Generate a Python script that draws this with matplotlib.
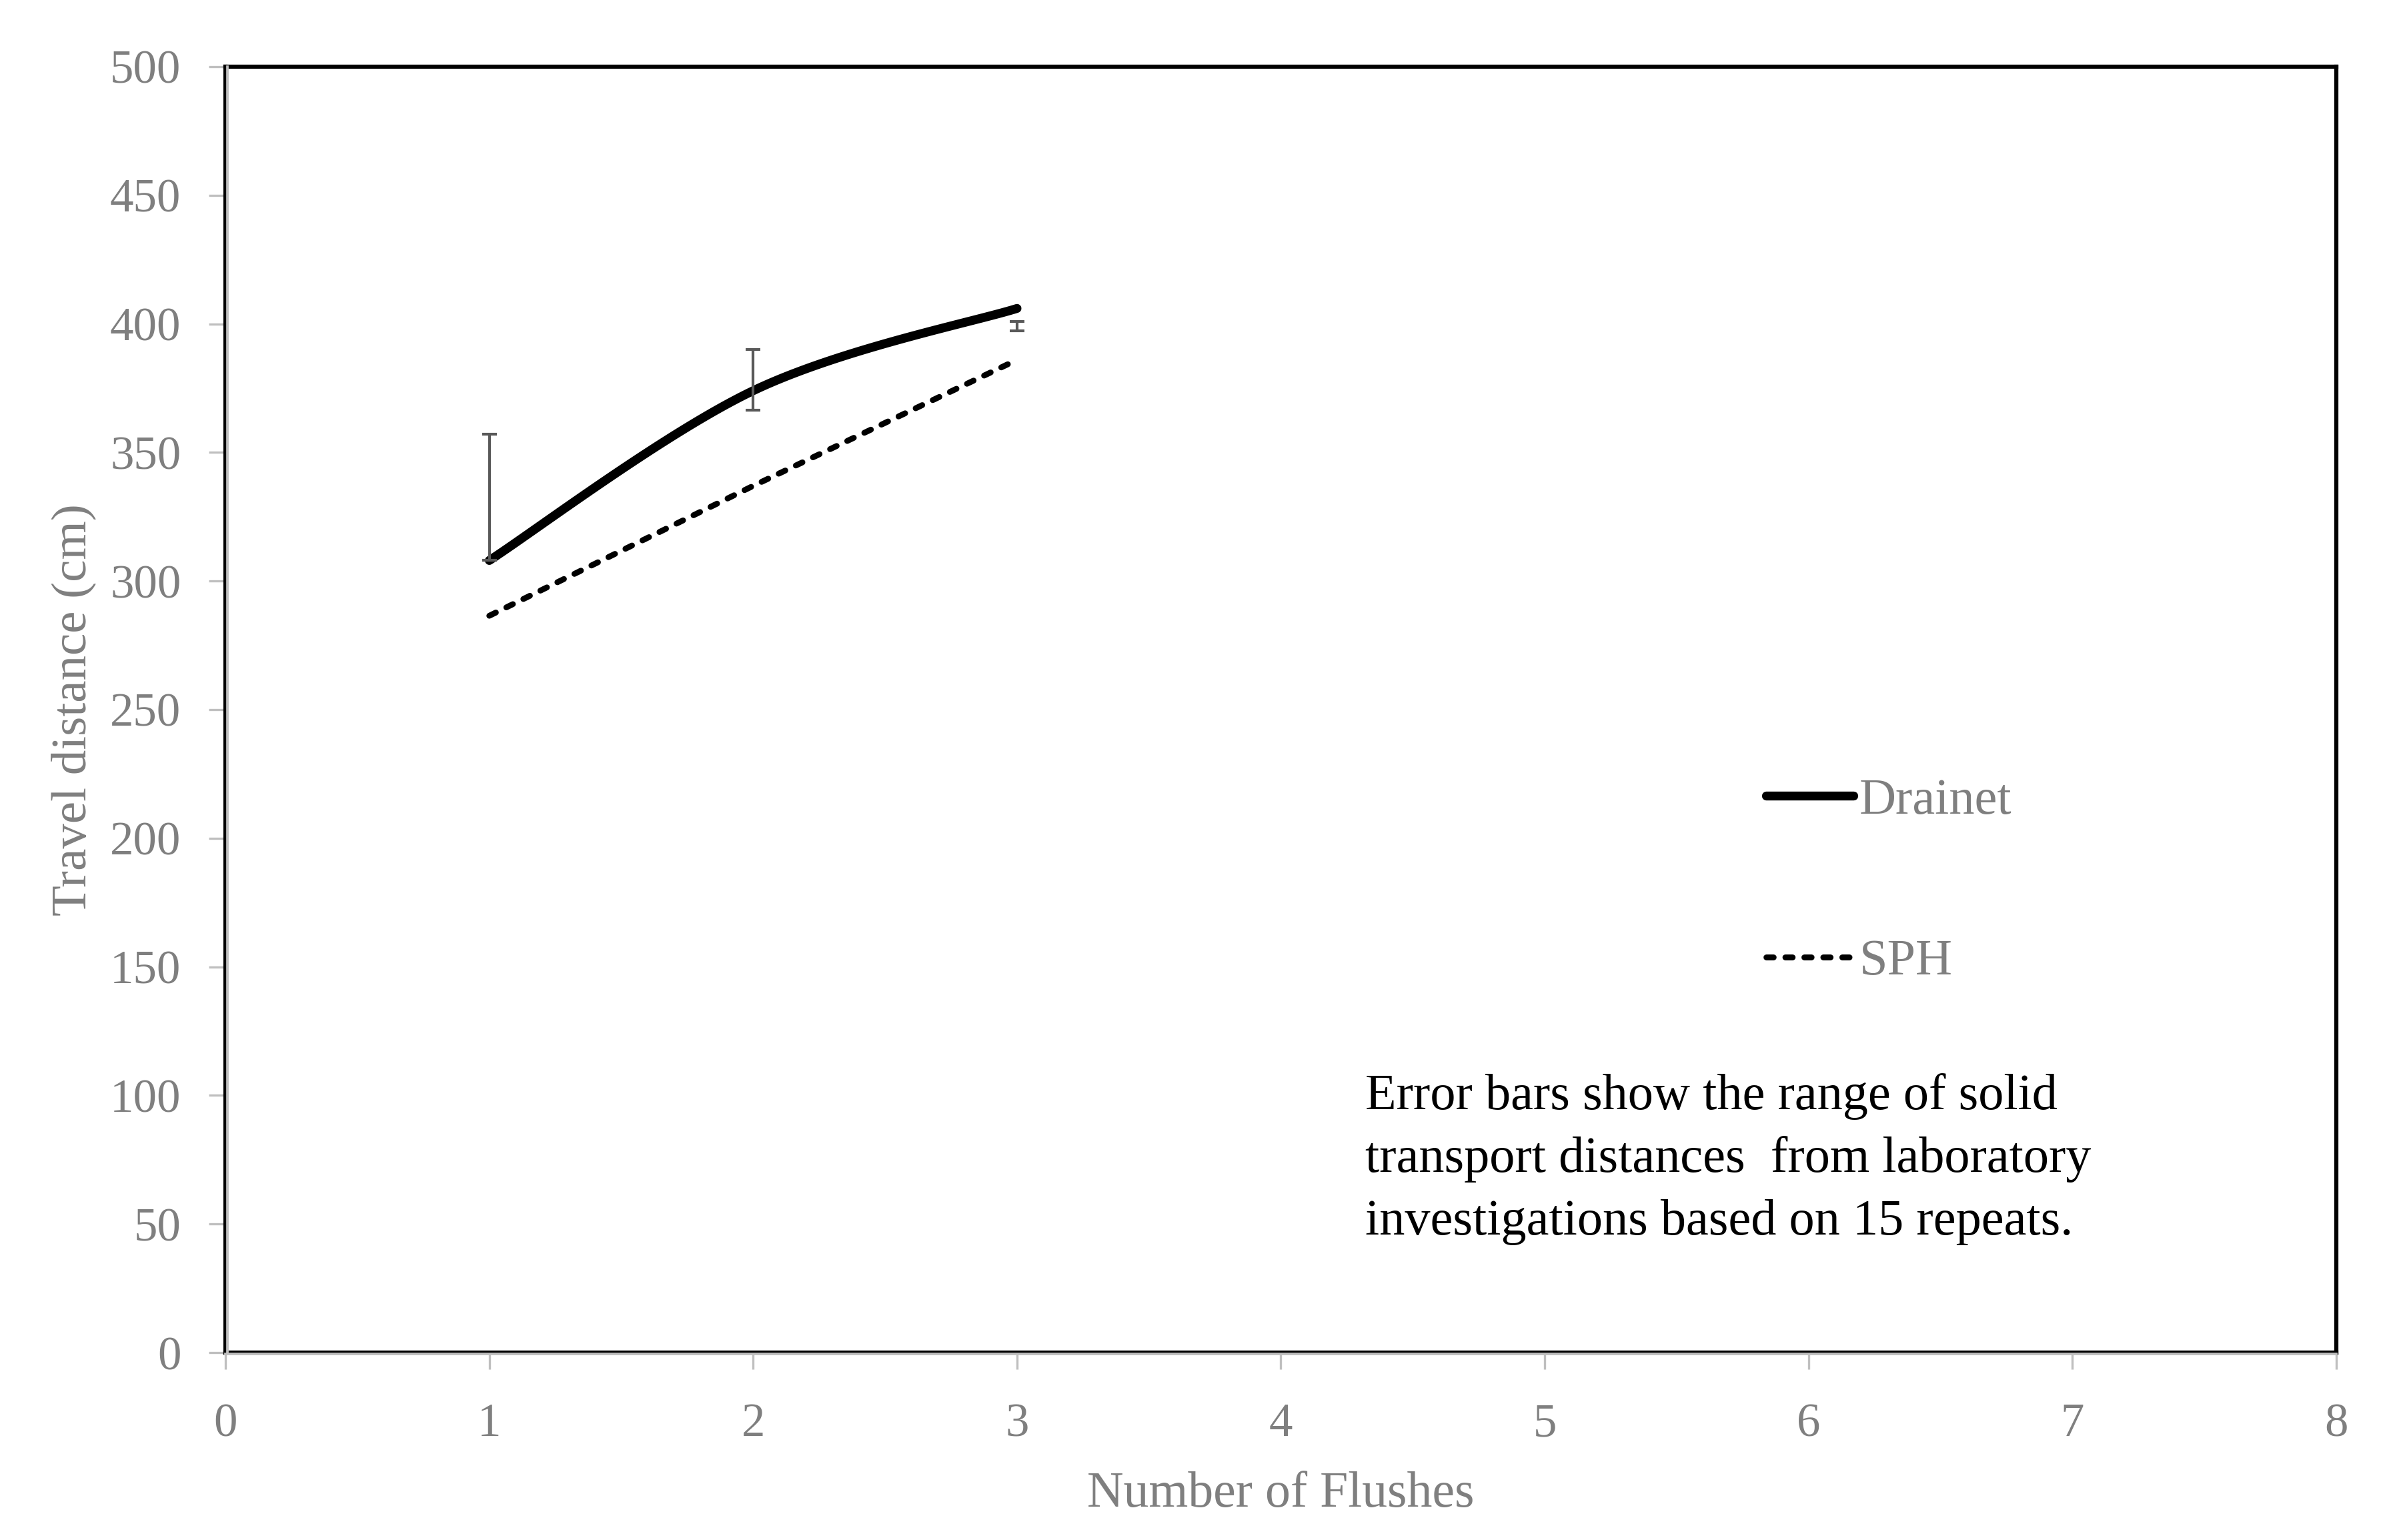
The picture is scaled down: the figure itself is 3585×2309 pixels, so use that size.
import numpy as np
import matplotlib
matplotlib.use("Agg")
import matplotlib.pyplot as plt
import matplotlib.transforms as mtransforms

# Data
flushes = [1, 2, 3]
drainet = [308, 374, 406]
sph = [286.5, 337, 386]
lab_min = [308, 366.5, 397.4]
lab_max = [357, 390, 401]

x_ticks = [0, 1, 2, 3, 4, 5, 6, 7, 8]
y_ticks = [0, 50, 100, 150, 200, 250, 300, 350, 400, 450, 500]

note = ("Error bars show the range of solid\n"
        "transport distances  from laboratory\n"
        "investigations based on 15 repeats.")

GRAY_TXT = "#7f7f7f"
GRAY_AX = "#bfbfbf"

plt.rcParams["font.family"] = ["Liberation Serif", "DejaVu Serif"]


def excel_smooth(xs, ys, n=60):
    # Bezier smoothing similar to a spreadsheet "smoothed line"
    p = np.column_stack([xs, ys]).astype(float)
    pts = np.vstack([p[0], p, p[-1]])
    out = []
    for i in range(1, len(pts) - 2):
        p0, p1, p2, p3 = pts[i - 1], pts[i], pts[i + 1], pts[i + 2]
        c1 = p1 + (p2 - p0) / 6
        c2 = p2 - (p3 - p1) / 6
        t = np.linspace(0, 1, n)[:, None]
        seg = ((1 - t) ** 3) * p1 + 3 * ((1 - t) ** 2) * t * c1 \
            + 3 * (1 - t) * t ** 2 * c2 + t ** 3 * p2
        out.append(seg if i == 1 else seg[1:])
    out = np.vstack(out)
    return out[:, 0], out[:, 1]


fig = plt.figure(figsize=(11.95, 7.6967), dpi=300)
ax = fig.add_axes([0.0943, 0.1217, 0.9771 - 0.0943, 0.9567 - 0.1217])

sx, sy = excel_smooth(flushes, drainet)
ax.plot(sx, sy, color="black", lw=3.2, solid_capstyle="round", label="Drainet", zorder=3)
ax.plot(flushes, sph, color="black", lw=2.1, linestyle=(0, (1.25, 2.0)),
        dash_capstyle="round", label="SPH", zorder=3)

mid = [(a + b) / 2 for a, b in zip(lab_min, lab_max)]
half = [(b - a) / 2 for a, b in zip(lab_min, lab_max)]
ax.errorbar(flushes, mid, yerr=half, fmt="none", ecolor="#595959",
            elinewidth=1.0, capsize=2.6, capthick=1.0, zorder=4)

ax.set_xlim(0, 8)
ax.set_ylim(0, 500)
ax.set_xticks(x_ticks)
ax.set_yticks(y_ticks)

for s in ax.spines.values():
    s.set_color("black")
    s.set_linewidth(1.5)

# light gray axis lines just inside the black frame
off_x = mtransforms.offset_copy(ax.transAxes, fig=fig, x=0.6, y=0, units="points")
off_y = mtransforms.offset_copy(ax.transAxes, fig=fig, x=0, y=-0.6, units="points")
ax.plot([0, 0], [0, 1], transform=off_x, color=GRAY_AX, lw=0.9, clip_on=False, zorder=5)
ax.plot([0, 1], [0, 0], transform=off_y, color=GRAY_AX, lw=0.9, clip_on=False, zorder=5)

ax.tick_params(axis="both", direction="out", length=6, width=0.8, color=GRAY_AX,
               labelcolor=GRAY_TXT, labelsize=17)
ax.tick_params(axis="x", pad=12)
ax.tick_params(axis="y", pad=10)

ax.set_xlabel("Number of Flushes", color=GRAY_TXT, fontsize=18.2)
ax.set_ylabel("Travel distance (cm)", color=GRAY_TXT, fontsize=18)
ax.xaxis.set_label_coords(0.5, -0.11)
ax.yaxis.set_label_coords(-0.072, 0.5)
ax.xaxis.label.set_va("center")
ax.yaxis.label.set_va("center")

leg = ax.legend(loc="upper left", bbox_to_anchor=(0.730, 0.447), frameon=False,
                fontsize=18.3, handlelength=1.71, handletextpad=0.12,
                labelspacing=2.26, borderpad=0, borderaxespad=0)
for t in leg.get_texts():
    t.set_color(GRAY_TXT)

ax.text(0.54, 0.2175, note, transform=ax.transAxes, ha="left", va="top",
        fontsize=18.3, color="black", linespacing=1.46)

fig.savefig("out.png", dpi=300)
